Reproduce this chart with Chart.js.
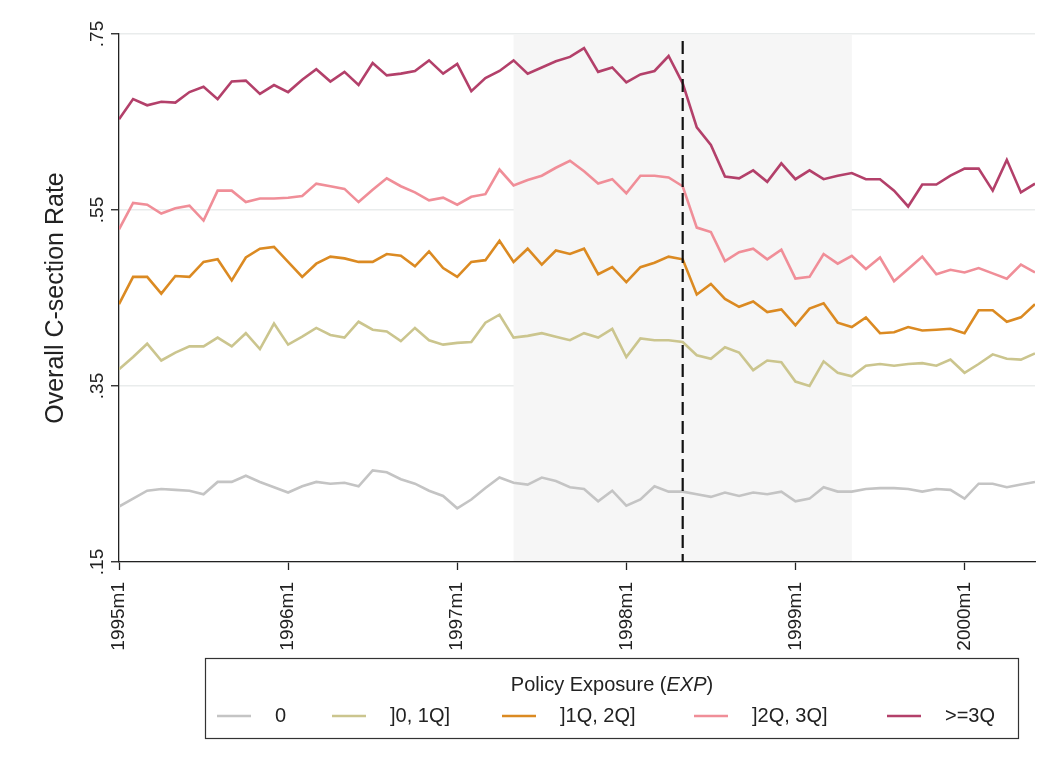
<!DOCTYPE html>
<html>
<head>
<meta charset="utf-8">
<script src="https://cdn.jsdelivr.net/npm/chart.js@4.4.1/dist/chart.umd.min.js"></script>
<style>
  html, body { margin: 0; padding: 0; background: #fff; }
  #wrap { width: 1056px; height: 758px; position: relative; }
</style>
</head>
<body>
<div id="wrap"><canvas id="myChart" width="1056" height="758"></canvas></div>
<script>
// meses 1995m1 .. 2000m6
const months = [];
for (let y = 1995; y <= 2000; y++) {
    for (let m = 1; m <= 12; m++) {
        if (y === 2000 && m > 6) break;
        months.push(y + "m" + m);
    }
}
const yearTicks = [0, 12, 24, 36, 48, 60];
const yTicks = [0.15, 0.35, 0.55, 0.75];
const yTickLabels = [".15", ".35", ".55", ".75"];
const shadeFrom = 28;   // 1997m5
const shadeTo = 52;     // 1999m5
const policyMonth = 40; // 1998m5

const legendLabels = ["0", "]0, 1Q]", "]1Q, 2Q]", "]2Q, 3Q]", ">=3Q"];

const exp0 = [.213, .222, .231, .233, .232, .231, .227, .241, .241, .248, .241, .235, .229, .236, .241, .239,
    .240, .236, .254, .252, .244, .239, .231, .225, .211, .221, .234, .246, .240, .238, .246, .242,
    .235, .233, .219, .231, .214, .221, .236, .230, .230, .227, .224, .229, .225, .229, .227, .230,
    .219, .222, .235, .230, .230, .233, .234, .234, .233, .230, .233, .232, .222, .239, .239, .235, .238, .241];
const exp1 = [.369, .383, .398, .379, .388, .395, .395, .405, .395, .410, .392, .421, .397, .406, .416, .408,
    .405, .423, .414, .412, .401, .416, .402, .397, .399, .400, .422, .431, .405, .407, .410, .406,
    .402, .410, .405, .415, .383, .404, .402, .402, .400, .385, .381, .394, .388, .368, .379, .377,
    .355, .350, .378, .365, .361, .373, .375, .373, .375, .376, .373, .380, .365, .375, .386, .381, .380, .387];
const exp2 = [.443, .474, .474, .455, .475, .474, .491, .494, .470, .496, .506, .508, .491, .474, .489, .497,
    .495, .491, .491, .500, .498, .486, .503, .484, .474, .491, .493, .515, .491, .506, .488, .504,
    .500, .506, .477, .485, .468, .485, .490, .497, .494, .454, .466, .449, .440, .446, .434, .437,
    .419, .438, .444, .422, .417, .428, .410, .411, .417, .413, .414, .415, .410, .436, .436, .423, .428, .443];
const exp3 = [.528, .558, .556, .546, .552, .555, .538, .572, .572, .559, .563, .563, .564, .566, .580, .577,
    .574, .559, .573, .586, .577, .570, .561, .564, .556, .565, .568, .596, .578, .584, .589, .598,
    .606, .594, .580, .585, .569, .589, .589, .587, .577, .530, .525, .492, .502, .506, .494, .505,
    .472, .474, .500, .489, .498, .483, .496, .469, .483, .497, .477, .482, .479, .484, .478, .472, .488, .479];
const exp4 = [.653, .676, .669, .673, .672, .684, .690, .676, .696, .697, .682, .692, .684, .698, .710, .696,
    .707, .692, .717, .703, .705, .708, .720, .705, .716, .685, .700, .708, .720, .705, .712, .719,
    .724, .734, .707, .712, .695, .704, .708, .725, .694, .644, .624, .588, .586, .595, .582, .603,
    .585, .595, .585, .589, .592, .585, .585, .572, .554, .579, .579, .589, .597, .597, .572, .607, .570, .580];

const cores = ["#c4c4c4", "#cbc58e", "#db8a22", "#f08e98", "#b3406a"];
const allSeries = [exp0, exp1, exp2, exp3, exp4];

function pontos(arr) {
    return arr.map((v, i) => ({ x: i, y: v }));
}

const FONT = "'Liberation Sans', Arial, sans-serif";

// Faixa cinza e linha tracejada
const faixaPlugin = {
    id: "faixa",
    beforeDatasetsDraw(chart) {
        const { ctx, chartArea, scales } = chart;
        const x1 = scales.x.getPixelForValue(shadeFrom);
        const x2 = scales.x.getPixelForValue(shadeTo);
        ctx.save();
        ctx.fillStyle = "#f6f6f6";
        ctx.fillRect(x1, chartArea.top + 1, x2 - x1, chartArea.bottom - chartArea.top - 2);
        ctx.restore();
    },
    afterDatasetsDraw(chart) {
        const { ctx, chartArea, scales } = chart;
        const x = scales.x.getPixelForValue(policyMonth);
        ctx.save();
        ctx.strokeStyle = "#111";
        ctx.lineWidth = 2.2;
        ctx.setLineDash([13, 6]);
        ctx.beginPath();
        ctx.moveTo(x, chartArea.top + 7);
        ctx.lineTo(x, chartArea.bottom);
        ctx.stroke();
        ctx.restore();
    }
};

// Rótulos dos eixos, título e legenda
const textosPlugin = {
    id: "textos",
    afterDraw(chart) {
        const { ctx, chartArea, scales } = chart;
        ctx.save();
        ctx.fillStyle = "#222";

        // rótulos do eixo Y (girados)
        ctx.font = "19px " + FONT;
        yTicks.forEach((v, i) => {
            const y = scales.y.getPixelForValue(v);
            ctx.save();
            ctx.translate(chartArea.left - 12, y);
            ctx.rotate(-Math.PI / 2);
            ctx.textAlign = "center";
            ctx.textBaseline = "bottom";
            ctx.fillText(yTickLabels[i], 0, 0);
            ctx.restore();
        });

        // título do eixo Y
        ctx.font = "25px " + FONT;
        ctx.save();
        ctx.translate(56, (chartArea.top + chartArea.bottom) / 2);
        ctx.rotate(-Math.PI / 2);
        ctx.textAlign = "center";
        ctx.textBaseline = "middle";
        ctx.fillText("Overall C-section Rate", 0, 0);
        ctx.restore();

        // rótulos do eixo X (girados)
        ctx.font = "19px " + FONT;
        yearTicks.forEach(i => {
            const x = scales.x.getPixelForValue(i);
            ctx.save();
            ctx.translate(x, chartArea.bottom + 20);
            ctx.rotate(-Math.PI / 2);
            ctx.textAlign = "right";
            ctx.textBaseline = "middle";
            ctx.fillText(months[i], 0, 0);
            ctx.restore();
        });

        // legenda
        const bx = 205, by = 658, bw = 813, bh = 80;
        ctx.strokeStyle = "#333";
        ctx.lineWidth = 1.2;
        ctx.strokeRect(bx + 0.5, by + 0.5, bw, bh);

        ctx.font = "20px " + FONT;
        const p1 = "Policy Exposure (", p2 = "EXP", p3 = ")";
        const w1 = ctx.measureText(p1).width;
        ctx.font = "italic 20px " + FONT;
        const w2 = ctx.measureText(p2).width;
        ctx.font = "20px " + FONT;
        const w3 = ctx.measureText(p3).width;
        let tx = 612 - (w1 + w2 + w3) / 2;
        const ty = 685;
        ctx.textAlign = "left";
        ctx.textBaseline = "middle";
        ctx.fillText(p1, tx, ty);
        ctx.font = "italic 20px " + FONT;
        ctx.fillText(p2, tx + w1, ty);
        ctx.font = "20px " + FONT;
        ctx.fillText(p3, tx + w1 + w2, ty);

        const itemX = [217, 332, 502, 694, 887];
        const iy = 716;
        legendLabels.forEach((lab, i) => {
            ctx.strokeStyle = cores[i];
            ctx.lineWidth = 2.5;
            ctx.beginPath();
            ctx.moveTo(itemX[i], iy);
            ctx.lineTo(itemX[i] + 34, iy);
            ctx.stroke();
            ctx.fillStyle = "#222";
            ctx.fillText(lab, itemX[i] + 58, iy);
        });
        ctx.restore();
    }
};

const Grafico = document.getElementById("myChart");
new Chart(Grafico, {
    type: "line",
    data: {
        datasets: allSeries.map((s, i) => ({
            label: legendLabels[i],
            data: pontos(s),
            borderColor: cores[i],
            borderWidth: 2.6,
            pointRadius: 0,
            tension: 0,
            fill: false
        }))
    },
    options: {
        responsive: false,
        animation: false,
        layout: { padding: { left: 111, right: 21, top: 34, bottom: 188 } },
        plugins: { legend: { display: false }, tooltip: { enabled: false } },
        scales: {
            x: {
                type: "linear",
                min: 0,
                max: months.length - 1,
                afterBuildTicks: scale => { scale.ticks = yearTicks.map(v => ({ value: v })); },
                ticks: { display: false },
                grid: { drawOnChartArea: false, tickLength: 8, tickColor: "#222", tickWidth: 1.3 },
                border: { color: "#222", width: 1.3 }
            },
            y: {
                type: "linear",
                min: 0.15,
                max: 0.75,
                afterBuildTicks: scale => { scale.ticks = yTicks.map(v => ({ value: v })); },
                ticks: { display: false },
                grid: { color: "#e9ecec", lineWidth: 1.5, tickLength: 8, tickColor: "#222", tickWidth: 1.3 },
                border: { color: "#222", width: 1.3 }
            }
        }
    },
    plugins: [faixaPlugin, textosPlugin]
});
</script>
</body>
</html>
